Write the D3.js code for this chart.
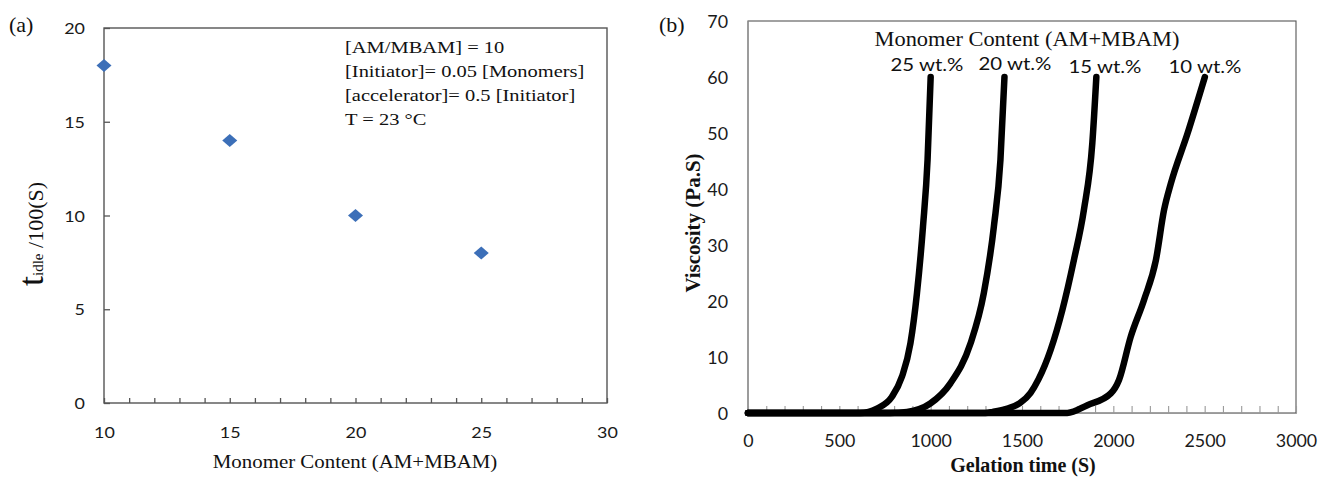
<!DOCTYPE html>
<html>
<head>
<meta charset="utf-8">
<script src="https://cdn.jsdelivr.net/npm/d3@7"></script>
<style>
  html, body { margin: 0; padding: 0; background: #fff; }
  svg { display: block; }
</style>
</head>
<body>
<svg id="chart" width="1319" height="482"></svg>
<script>
// ---------- Data: panel (a) ----------
const monomerContent = [10, 15, 20, 25];
const tIdle = [18, 14, 10, 8];
const xTicksA = [10, 15, 20, 25, 30];
const yTicksA = [0, 5, 10, 15, 20];
const noteLines = [
  "[AM/MBAM] = 10",
  "[Initiator]= 0.05 [Monomers]",
  "[accelerator]= 0.5 [Initiator]",
  "T = 23 \u00B0C"
];

// ---------- Data: panel (b) ----------
const time25 = [0, 614, 706, 788, 843, 889, 925, 958, 983, 1000];
const visc25 = [0, 0, 0.8, 2.9, 6.5, 12.4, 21.4, 33.3, 45.2, 60];
const time20 = [0, 779, 871, 998, 1108, 1218, 1291, 1346, 1382, 1404];
const visc20 = [0, 0, 0.2, 1.7, 5.3, 12.4, 21.4, 33.3, 45.2, 60];
const time15 = [0, 1300, 1340, 1420, 1490, 1547, 1590, 1657, 1721, 1784, 1839, 1885, 1907];
const visc15 = [0, 0, 0.2, 0.8, 1.8, 3.6, 6.0, 11.3, 18.4, 27.3, 36.3, 48.2, 60];
const time10 = [0, 1748, 1858, 1986, 2031, 2095, 2168, 2233, 2278, 2315, 2406, 2501];
const visc10 = [0, 0, 1.4, 3.5, 5.9, 13.6, 20.2, 27.3, 36.3, 41, 49.9, 60];
const seriesLabels = ["25 wt.%", "20 wt.%", "15 wt.%", "10 wt.%"];
const xTicksB = [0, 500, 1000, 1500, 2000, 2500, 3000];
const yTicksB = [0, 10, 20, 30, 40, 50, 60, 70];

const SERIF = "'Liberation Serif', 'Times New Roman', serif";
const SANS = "Lato, 'Liberation Sans', sans-serif";

const svg = d3.select("#chart");
svg.append("rect").attr("width", 1319).attr("height", 482).attr("fill", "#fff");

function label(g, x, y, str, o) {
  return g.append("text")
    .attr("transform", `translate(${x},${y}) scale(${o.sx || 1},1)`)
    .attr("text-anchor", o.anchor || "start")
    .style("font-family", o.family)
    .style("font-size", o.size + "px")
    .style("font-weight", o.weight || "normal")
    .attr("fill", o.fill || "#111")
    .text(str);
}

// ================= Panel (a) =================
const xA = d3.scaleLinear().domain([10, 30]).range([104, 607]);
const yA = d3.scaleLinear().domain([0, 20]).range([403, 28]);
const gA = svg.append("g");

gA.append("rect")
  .attr("x", xA(10)).attr("y", yA(20))
  .attr("width", xA(30) - xA(10)).attr("height", yA(0) - yA(20))
  .attr("fill", "none").attr("stroke", "#555").attr("stroke-width", 1.4);

const yAxA = gA.append("g").attr("transform", `translate(${xA(10)},0)`)
  .call(d3.axisLeft(yA).tickValues(yTicksA).tickSize(-6).tickFormat(d3.format("d")));
yAxA.select(".domain").remove();
yAxA.selectAll("line").attr("stroke", "#555").attr("stroke-width", 1.3);
yAxA.selectAll("text")
  .attr("x", null).attr("dy", "0.35em")
  .attr("transform", "translate(-19,0) scale(1.12,1)")
  .attr("text-anchor", "end")
  .style("font-family", SANS).style("font-size", "16px").attr("fill", "#1a1a1a");

const xAxA = gA.append("g").attr("transform", `translate(0,${yA(0)})`)
  .call(d3.axisBottom(xA).tickValues(d3.range(10, 31, 1)).tickSize(-5)
    .tickFormat(d => (xTicksA.includes(d) ? d : "")));
xAxA.select(".domain").remove();
xAxA.selectAll("line").attr("stroke", "#555").attr("stroke-width", 1.3);
xAxA.selectAll("text")
  .attr("y", null).attr("dy", "0.35em")
  .attr("transform", "translate(0,29) scale(1.12,1)")
  .style("font-family", SANS).style("font-size", "16px").attr("fill", "#1a1a1a");

const diamond = d3.symbol().type(d3.symbolSquare).size(85);
gA.selectAll("path.pt").data(monomerContent).join("path")
  .attr("class", "pt")
  .attr("d", diamond())
  .attr("transform", (d, i) => `translate(${xA(d)},${yA(tIdle[i])}) scale(1.15,1) rotate(45)`)
  .attr("fill", "#3c6fb8");

noteLines.forEach((s, i) => {
  label(gA, 345, 53 + i * 24, s, { family: SERIF, size: 17.5, sx: 1.17 });
});

label(gA, 9, 32, "(a)", { family: SERIF, size: 22 });
label(gA, 355, 468, "Monomer Content (AM+MBAM)", { family: SERIF, size: 19, sx: 1.1, anchor: "middle" });
const yl = gA.append("text")
  .attr("transform", "translate(43,234) rotate(-90)")
  .attr("text-anchor", "middle")
  .style("font-family", SERIF).attr("fill", "#111");
yl.append("tspan").style("font-size", "36px").text("t");
yl.append("tspan").style("font-size", "15px").text("idle");
yl.append("tspan").style("font-size", "22px").text(" /100(S)");

// ================= Panel (b) =================
const xB = d3.scaleLinear().domain([0, 3000]).range([748, 1296]);
const yB = d3.scaleLinear().domain([0, 70]).range([413, 21]);
const gB = svg.append("g");

gB.append("rect")
  .attr("x", xB(0)).attr("y", yB(70))
  .attr("width", xB(3000) - xB(0)).attr("height", yB(0) - yB(70))
  .attr("fill", "none").attr("stroke", "#555").attr("stroke-width", 1.1);
gB.append("line")
  .attr("x1", xB(0)).attr("x2", xB(0)).attr("y1", yB(70)).attr("y2", yB(0))
  .attr("stroke", "#999").attr("stroke-width", 1.2);

const yAxB = gB.append("g").attr("transform", `translate(${xB(0)},0)`)
  .call(d3.axisLeft(yB).tickValues(yTicksB).tickSize(0));
yAxB.select(".domain").remove();
yAxB.selectAll("text")
  .attr("x", null).attr("dy", "0.35em")
  .attr("transform", "translate(-20,1) scale(1.05,1)")
  .attr("text-anchor", "end")
  .style("font-family", SANS).style("font-size", "17px").attr("fill", "#1a1a1a");

const xAxB = gB.append("g").attr("transform", `translate(0,${yB(0)})`)
  .call(d3.axisBottom(xB).tickValues(d3.range(0, 3001, 100)).tickSize(-7)
    .tickFormat(d => (xTicksB.includes(d) ? d : "")));
xAxB.select(".domain").attr("stroke", "#999");
xAxB.selectAll("line").attr("stroke", "#999").attr("stroke-width", 1.1);
xAxB.selectAll("text")
  .attr("y", null).attr("dy", "0.35em")
  .attr("transform", "translate(0,28) scale(1.05,1)")
  .style("font-family", SANS).style("font-size", "17px").attr("fill", "#1a1a1a");

const series = [
  { t: time10, v: visc10 },
  { t: time15, v: visc15 },
  { t: time20, v: visc20 },
  { t: time25, v: visc25 }
];
const line = d3.line().x(d => xB(d[0])).y(d => yB(d[1])).curve(d3.curveMonotoneX);
gB.selectAll("path.curve").data(series).join("path")
  .attr("class", "curve")
  .attr("d", s => line(s.t.map((t, i) => [t, s.v[i]])))
  .attr("fill", "none").attr("stroke", "#000")
  .attr("stroke-width", 6.5)
  .attr("stroke-linejoin", "round").attr("stroke-linecap", "round");

label(gB, 1027, 46, "Monomer Content (AM+MBAM)", { family: SERIF, size: 20, sx: 1.12, anchor: "middle" });
const lblPos = [[927, 71], [1015, 70], [1105, 73], [1205, 73]];
seriesLabels.forEach((s, i) => {
  label(gB, lblPos[i][0], lblPos[i][1], s, { family: SANS, size: 17, sx: 1.2, anchor: "middle" });
});
label(gB, 659, 32, "(b)", { family: SERIF, size: 22 });
label(gB, 1023, 472, "Gelation time (S)", { family: SERIF, size: 20, weight: "bold", anchor: "middle" });
gB.append("text")
  .attr("transform", "translate(700,223) rotate(-90)")
  .attr("text-anchor", "middle")
  .style("font-family", SERIF).style("font-size", "21px").style("font-weight", "bold")
  .attr("fill", "#111")
  .text("Viscosity (Pa.S)");
</script>
</body>
</html>
